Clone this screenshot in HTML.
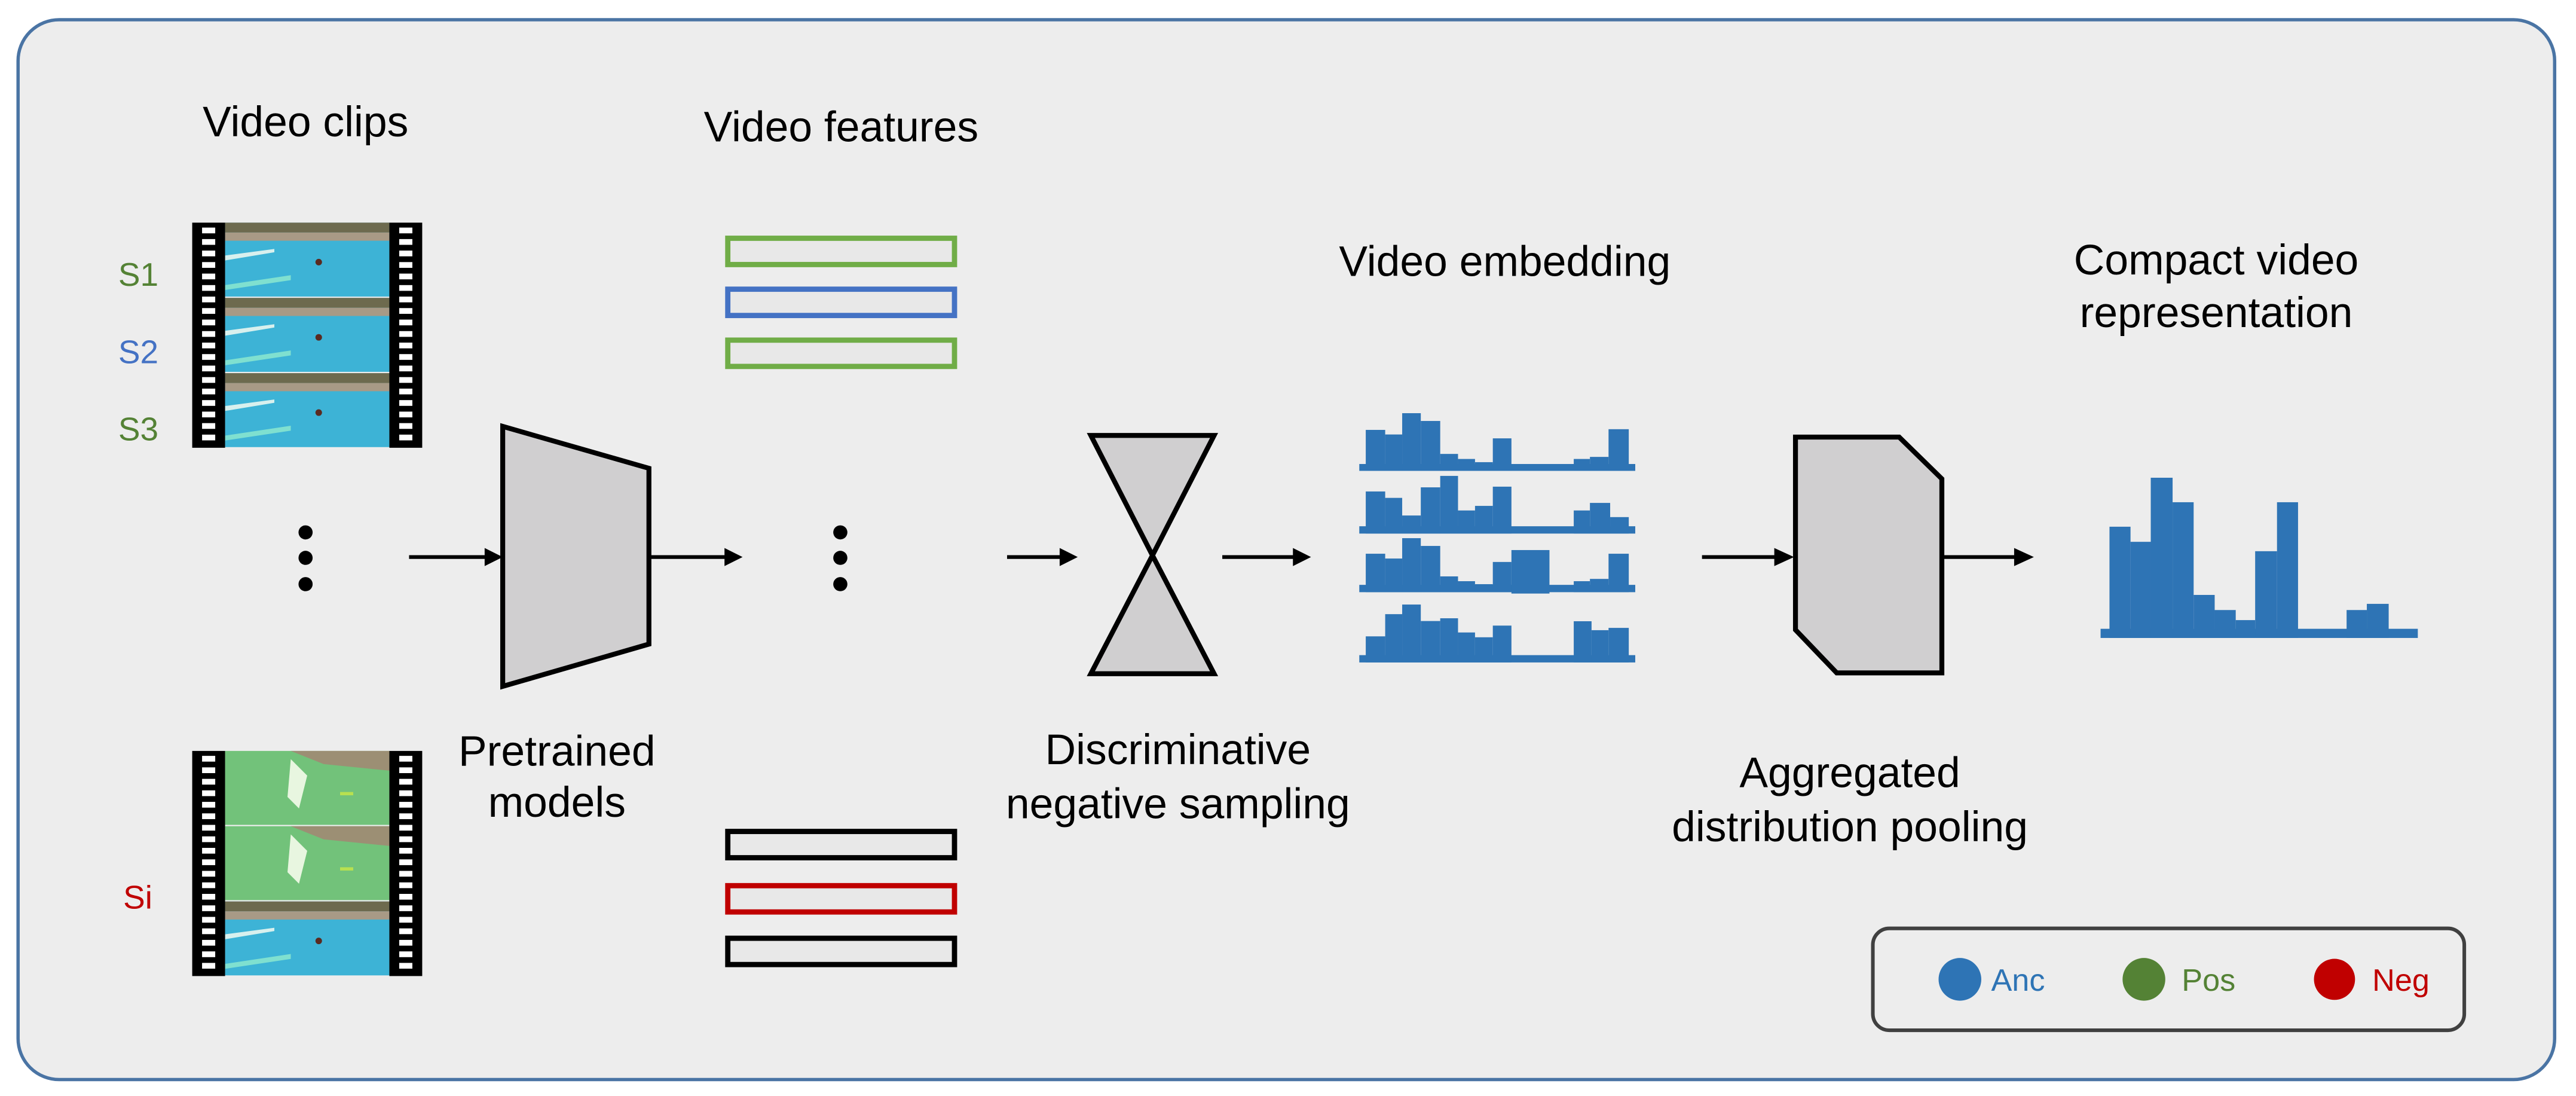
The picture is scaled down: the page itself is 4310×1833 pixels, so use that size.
<!DOCTYPE html>
<html><head><meta charset="utf-8"><style>html,body{margin:0;padding:0;background:#fff}svg{display:block}</style></head>
<body>
<svg width="4310" height="1833" viewBox="0 0 1568 667" preserveAspectRatio="none" xmlns="http://www.w3.org/2000/svg" font-family="Liberation Sans, Arial, sans-serif">
<defs>
<g id="poolframe">
<rect x="0" y="0" width="100" height="45" fill="#3db3d6"/>
<rect x="0" y="0" width="100" height="6" fill="#6d6a4e"/>
<rect x="0" y="6" width="100" height="5" fill="#a89a86"/>
<path d="M0 20 L30 16 L30 18 L0 23Z" fill="#d8f0ee"/>
<path d="M0 38 L40 32 L40 35 L0 41Z" fill="#7fe0d0"/>
<circle cx="57" cy="24" r="2" fill="#5a2a20"/>
</g>
<g id="greenframe">
<rect x="0" y="0" width="100" height="45" fill="#72c27a"/>
<path d="M40 0 L100 0 L100 12 L60 8Z" fill="#9c8f74"/>
<path d="M40 5 L50 15 L45 35 L38 28Z" fill="#e8f6e0"/>
<rect x="70" y="25" width="8" height="2" fill="#b8e050"/>
</g>
<g id="sprocket">
<rect x="0" y="0" width="20" height="137" fill="#000"/>
<g fill="#fff">
<rect x="6" y="3" width="8" height="3.5"/><rect x="6" y="10" width="8" height="3.5"/><rect x="6" y="17" width="8" height="3.5"/><rect x="6" y="24" width="8" height="3.5"/><rect x="6" y="31" width="8" height="3.5"/><rect x="6" y="38" width="8" height="3.5"/><rect x="6" y="45" width="8" height="3.5"/><rect x="6" y="52" width="8" height="3.5"/><rect x="6" y="59" width="8" height="3.5"/><rect x="6" y="66" width="8" height="3.5"/><rect x="6" y="73" width="8" height="3.5"/><rect x="6" y="80" width="8" height="3.5"/><rect x="6" y="87" width="8" height="3.5"/><rect x="6" y="94" width="8" height="3.5"/><rect x="6" y="101" width="8" height="3.5"/><rect x="6" y="108" width="8" height="3.5"/><rect x="6" y="115" width="8" height="3.5"/><rect x="6" y="122" width="8" height="3.5"/><rect x="6" y="129" width="8" height="3.5"/>
</g>
</g>
</defs>
<rect x="11" y="12" width="1544" height="645" rx="25" ry="25" fill="#ededed" stroke="#4a74a4" stroke-width="2"/>

<g font-size="26" text-anchor="middle" fill="#000">
<text x="186" y="83">Video clips</text>
<text x="512" y="86">Video features</text>
<text x="339" y="466">Pretrained</text>
<text x="339" y="497">models</text>
<text x="717" y="465">Discriminative</text>
<text x="717" y="498">negative sampling</text>
<text x="916" y="168">Video embedding</text>
<text x="1349" y="167">Compact video</text>
<text x="1349" y="199">representation</text>
<text x="1126" y="479">Aggregated</text>
<text x="1126" y="512">distribution pooling</text>
</g>
<g font-size="20">
<text x="72" y="174" fill="#548235">S1</text>
<text x="72" y="221" fill="#4472c4">S2</text>
<text x="72" y="268" fill="#548235">S3</text>
<text x="75" y="553" fill="#c00000">Si</text>
</g>

<!-- film 1 -->
<g transform="translate(117,135.5)">
<use href="#poolframe" x="20" y="0"/><use href="#poolframe" x="20" y="45.8"/><use href="#poolframe" x="20" y="91.6"/>
<use href="#sprocket" x="0" y="0"/><use href="#sprocket" x="120" y="0"/>
</g>
<!-- film 2 -->
<g transform="translate(117,457)">
<use href="#greenframe" x="20" y="0"/><use href="#greenframe" x="20" y="45.8"/><use href="#poolframe" x="20" y="91.6"/>
<use href="#sprocket" x="0" y="0"/><use href="#sprocket" x="120" y="0"/>
</g>

<!-- dots -->
<g fill="#000">
<circle cx="186" cy="324" r="4.3"/><circle cx="186" cy="339.5" r="4.3"/><circle cx="186" cy="355.5" r="4.3"/>
<circle cx="511.5" cy="324" r="4.3"/><circle cx="511.5" cy="339.5" r="4.3"/><circle cx="511.5" cy="355.5" r="4.3"/>
</g>

<!-- arrows -->
<g stroke="#000" stroke-width="2.3" fill="none">
<line x1="249" y1="339" x2="298" y2="339"/>
<line x1="395" y1="339" x2="444" y2="339"/>
<line x1="613" y1="339" x2="648" y2="339"/>
<line x1="744" y1="339" x2="790" y2="339"/>
<line x1="1036" y1="339" x2="1082" y2="339"/>
<line x1="1182" y1="339" x2="1228" y2="339"/>
</g>
<g fill="#000">
<path d="M295 333.5 L306 339 L295 344.5Z"/>
<path d="M441 333.5 L452 339 L441 344.5Z"/>
<path d="M645 333.5 L656 339 L645 344.5Z"/>
<path d="M787 333.5 L798 339 L787 344.5Z"/>
<path d="M1080 333.5 L1092 339 L1080 344.5Z"/>
<path d="M1226 333.5 L1238 339 L1226 344.5Z"/>
</g>

<!-- trapezoid -->
<path d="M306 259.5 L395 285 L395 392 L306 417.7Z" fill="#d0cfd0" stroke="#000" stroke-width="3"/>
<!-- hourglass -->
<path d="M664 265 L739 265 L701.5 338 Z M701.5 338 L739 410 L664 410 Z" fill="#d0cfd0" stroke="#000" stroke-width="3" stroke-linejoin="miter"/>
<!-- hexagon -->
<path d="M1092.9 266 L1156 266 L1182 291.4 L1182 409.5 L1118 409.5 L1092.9 383.3Z" fill="#d0cfd0" stroke="#000" stroke-width="3"/>

<!-- feature bars -->
<g fill="#e8e8e8" stroke-width="3.2">
<rect x="443" y="145" width="138" height="16" stroke="#70ad47"/>
<rect x="443" y="176" width="138" height="16" stroke="#4472c4"/>
<rect x="443" y="207" width="138" height="16" stroke="#70ad47"/>
<rect x="443" y="506" width="138" height="16" stroke="#000"/>
<rect x="443" y="539" width="138" height="16" stroke="#c00000"/>
<rect x="443" y="571" width="138" height="16" stroke="#000"/>
</g>

<!-- histograms (zoom coordinates) -->
<g transform="translate(800.3,218.3) scale(0.4926,0.1393)" fill="#2e74b5">
<rect x="55" y="460" width="341" height="30"/>
<rect x="63" y="311" width="24" height="179"/><rect x="87" y="331" width="21" height="159"/><rect x="108" y="238" width="23" height="252"/><rect x="131" y="272" width="24" height="218"/><rect x="155" y="416" width="22" height="74"/><rect x="177" y="438" width="21" height="52"/><rect x="198" y="452" width="22" height="38"/><rect x="220" y="348" width="23" height="142"/><rect x="320" y="438" width="20" height="52"/><rect x="340" y="429" width="23" height="61"/><rect x="363" y="308" width="25" height="182"/>

<rect x="55" y="732" width="341" height="32"/>
<rect x="63" y="580" width="24" height="184"/><rect x="87" y="608" width="21" height="156"/><rect x="108" y="685" width="23" height="79"/><rect x="131" y="562" width="24" height="202"/><rect x="155" y="512" width="22" height="252"/><rect x="177" y="663" width="21" height="101"/><rect x="198" y="643" width="22" height="121"/><rect x="220" y="559" width="23" height="205"/><rect x="320" y="663" width="20" height="101"/><rect x="340" y="630" width="25" height="134"/><rect x="365" y="692" width="23" height="72"/>

<rect x="55" y="988" width="341" height="32"/>
<rect x="63" y="852" width="24" height="168"/><rect x="87" y="873" width="21" height="147"/><rect x="108" y="784" width="23" height="236"/><rect x="131" y="818" width="24" height="202"/><rect x="155" y="951" width="22" height="69"/><rect x="177" y="972" width="21" height="48"/><rect x="198" y="985" width="22" height="35"/><rect x="220" y="888" width="23" height="132"/><rect x="243" y="836" width="47" height="190"/><rect x="320" y="972" width="20" height="48"/><rect x="340" y="962" width="23" height="58"/><rect x="363" y="852" width="25" height="168"/>

<rect x="55" y="1295" width="341" height="32"/>
<rect x="63" y="1213" width="24" height="114"/><rect x="87" y="1116" width="21" height="211"/><rect x="108" y="1074" width="23" height="253"/><rect x="131" y="1146" width="24" height="181"/><rect x="155" y="1134" width="22" height="193"/><rect x="177" y="1196" width="21" height="131"/><rect x="198" y="1217" width="22" height="110"/><rect x="220" y="1166" width="23" height="161"/><rect x="320" y="1147" width="22" height="180"/><rect x="342" y="1186" width="21" height="141"/><rect x="363" y="1176" width="25" height="151"/>

<rect x="971" y="1180" width="392" height="40"/>
<rect x="982" y="734" width="26" height="486"/><rect x="1008" y="800" width="25" height="420"/><rect x="1033" y="520" width="27" height="700"/><rect x="1060" y="627" width="26" height="593"/><rect x="1086" y="1032" width="26" height="188"/><rect x="1112" y="1098" width="26" height="122"/><rect x="1138" y="1142" width="24" height="78"/><rect x="1162" y="841" width="27" height="379"/><rect x="1189" y="627" width="26" height="593"/><rect x="1275" y="1098" width="25" height="122"/><rect x="1300" y="1071" width="27" height="149"/>
</g>

<!-- legend -->
<rect x="1140" y="565" width="360" height="62" rx="10" ry="10" fill="#ededed" stroke="#404040" stroke-width="2.2"/>
<circle cx="1193" cy="596" r="13" fill="#2e74b5"/>
<circle cx="1305" cy="596" r="13" fill="#548235"/>
<circle cx="1421" cy="596" r="12.5" fill="#c00000"/>
<g font-size="19">
<text x="1212" y="603" fill="#2e74b5">Anc</text>
<text x="1328" y="603" fill="#548235">Pos</text>
<text x="1444" y="603" fill="#c00000">Neg</text>
</g>
</svg>
</body></html>
